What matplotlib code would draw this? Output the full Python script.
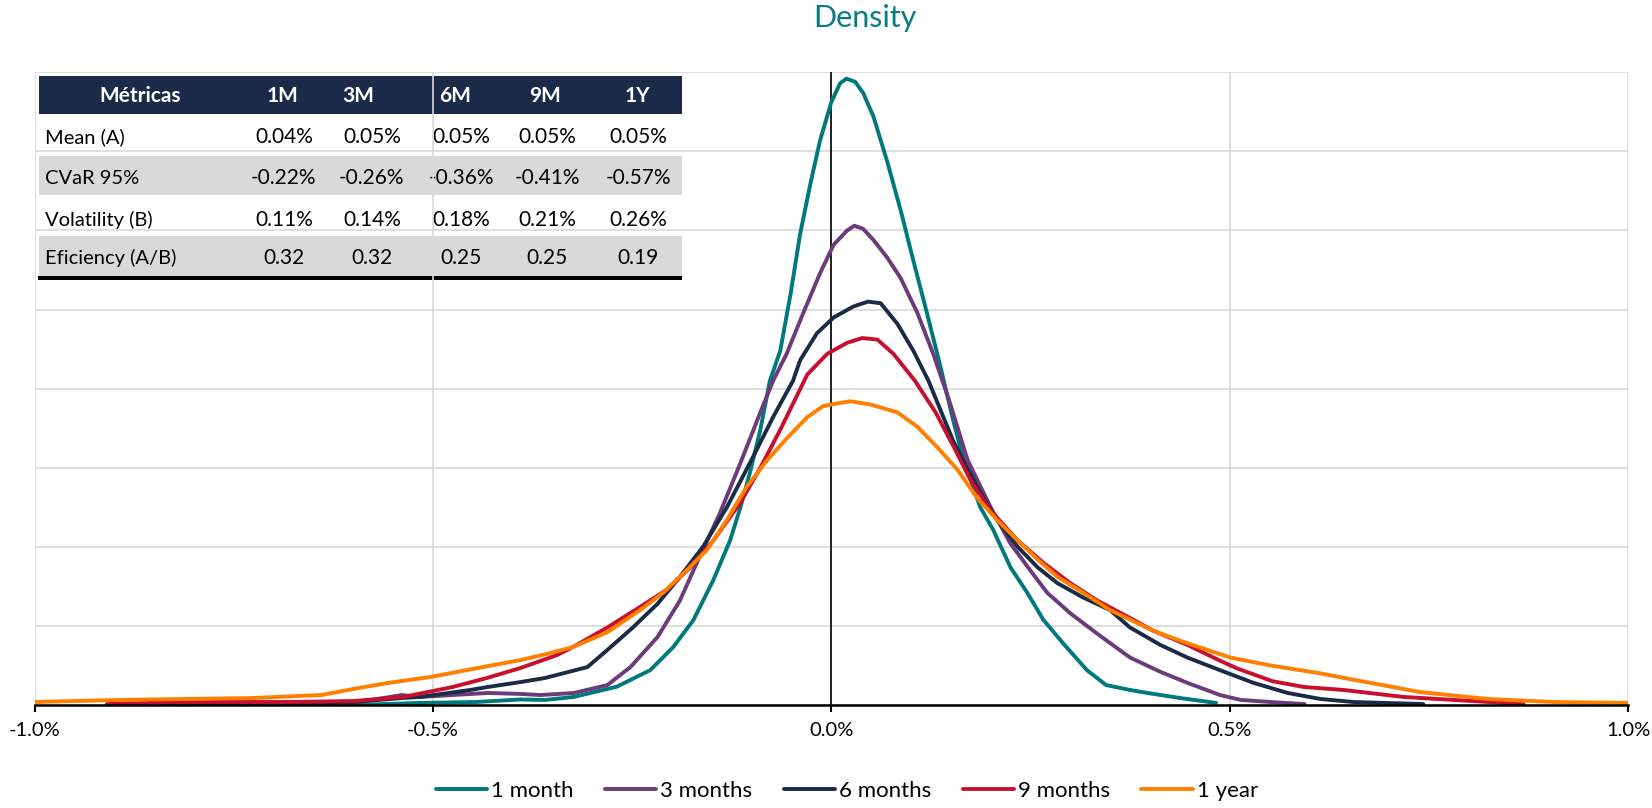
import matplotlib
matplotlib.use("Agg")
import matplotlib.pyplot as plt
from matplotlib.patches import Rectangle

plt.rcParams['font.family'] = ['Lato', 'DejaVu Sans']

# ______ data (x in %, density in chart units)
x_1m = [-0.600, -0.516, -0.446, -0.390, -0.359, -0.323, -0.269, -0.227, -0.198, -0.173, -0.148,
        -0.127, -0.114, -0.102, -0.089, -0.077, -0.064, -0.051, -0.039, -0.026, -0.014, 0.000,
        0.011, 0.019, 0.030, 0.040, 0.053, 0.070, 0.087, 0.103, 0.120, 0.137, 0.153, 0.166, 0.187,
        0.203, 0.225, 0.246, 0.266, 0.291, 0.321, 0.345, 0.375, 0.397, 0.438, 0.483]
y_1m = [0, 1.3, 1.9, 3.5, 3.2, 5.1, 11.6, 22.1, 36.8, 53.7, 79,
        104, 125, 147, 174, 205, 224, 260, 298, 330, 357, 381,
        393, 396, 394, 387, 372, 344, 313, 281, 248, 214, 180, 155, 125,
        111, 87, 71, 54, 39, 22, 12.6, 9.5, 7.6, 4.4, 1.3]

x_3m = [-0.692, -0.600, -0.539, -0.516, -0.431, -0.390, -0.365, -0.323, -0.281, -0.252, -0.218,
        -0.190, -0.165, -0.140, -0.114, -0.089, -0.073, -0.056, -0.035, -0.014, 0.003, 0.020,
        0.029, 0.040, 0.053, 0.070, 0.087, 0.108, 0.128, 0.149, 0.171, 0.200, 0.225, 0.250, 0.271,
        0.300, 0.334, 0.375, 0.413, 0.447, 0.488, 0.514, 0.551, 0.594]
y_3m = [0.6, 1.3, 6.3, 5.1, 7.6, 7.0, 6.3, 7.6, 12.6, 24, 43,
        66, 94, 121, 153, 185, 205, 222, 248, 273, 291, 300,
        303, 301, 294, 283, 270, 248, 222, 191, 155, 125, 102, 85, 71,
        58, 45, 30, 21, 14, 6.3, 3.2, 1.9, 0.6]

x_6m = [-0.839, -0.726, -0.600, -0.539, -0.516, -0.453, -0.431, -0.390, -0.359, -0.306, -0.281,
        -0.249, -0.218, -0.190, -0.161, -0.131, -0.098, -0.073, -0.048, -0.039, -0.018, 0.003,
        0.028, 0.046, 0.062, 0.083, 0.103, 0.122, 0.153, 0.183, 0.208, 0.234, 0.259, 0.284,
        0.316, 0.350, 0.375, 0.413, 0.447, 0.488, 0.530, 0.573, 0.614, 0.655, 0.743]
y_6m = [0, 1.3, 1.9, 4.4, 5.1, 9.5, 11.4, 14.5, 17.1, 24, 34.8,
        49, 64, 81, 100, 125, 157, 182, 205, 218, 235, 245,
        252, 255, 254, 241, 224, 205, 167, 138, 117, 100, 87, 77,
        68, 60, 49, 38, 30, 22, 14, 7.6, 3.8, 1.9, 0.6]

x_9m = [-0.909, -0.809, -0.683, -0.600, -0.537, -0.475, -0.432, -0.390, -0.344, -0.324, -0.281,
        -0.240, -0.206, -0.177, -0.148, -0.114, -0.089, -0.064, -0.030, -0.005, 0.020, 0.039,
        0.058, 0.078, 0.105, 0.131, 0.156, 0.175, 0.200, 0.234, 0.266, 0.300, 0.334, 0.375,
        0.404, 0.447, 0.488, 0.510, 0.554, 0.593, 0.643, 0.718, 0.781, 0.869]
y_9m = [0.6, 1.9, 1.9, 2.5, 5.1, 11.4, 17.1, 23.4, 31.6, 36.7, 49,
        62, 73, 87, 104, 128, 150, 174, 209, 222, 229, 232,
        231, 222, 205, 185, 161, 142, 123, 104, 90, 77, 66, 55,
        47, 38, 28, 23, 15, 11.4, 9.5, 5.1, 3.2, 0.6]

x_1y = [-1.000, -0.893, -0.809, -0.726, -0.640, -0.600, -0.557, -0.503, -0.431, -0.390, -0.352,
        -0.324, -0.281, -0.240, -0.211, -0.186, -0.156, -0.131, -0.106, -0.080, -0.055, -0.030,
        -0.010, 0.011, 0.024, 0.049, 0.083, 0.108, 0.133, 0.158, 0.183, 0.208, 0.234, 0.259,
        0.284, 0.316, 0.350, 0.375, 0.404, 0.447, 0.501, 0.551, 0.614, 0.655, 0.739, 0.824,
        0.906, 1.000]
y_1y = [1.9, 3.2, 3.8, 4.4, 6.3, 10.1, 13.9, 17.7, 24.6, 28.4, 32.9,
        36.7, 46, 60, 71, 83, 98, 117, 138, 155, 169, 182,
        189, 191, 192, 190, 185, 176, 163, 149, 131, 117, 104, 92,
        81, 71, 60, 54, 47, 39, 30, 25, 20, 16, 8.2, 3.8,
        1.9, 1.3]

series_labels = ['1 month', '3 months', '6 months', '9 months', '1 year']
series_colors = ['#00797C', '#6B3B7B', '#1B2A47', '#C8102E', '#FF7F00']

x_ticks = [-1.0, -0.5, 0.0, 0.5, 1.0]
x_tick_labels = ['-1.0%', '-0.5%', '0.0%', '0.5%', '1.0%']

table_header = ['Métricas', '1M', '3M', '6M', '9M', '1Y']
table_rows = ['Mean (A)', 'CVaR 95%', 'Volatility (B)', 'Eficiency (A/B)']
table_values = [
    ['0.04%', '0.05%', '0.05%', '0.05%', '0.05%'],
    ['-0.22%', '-0.26%', '-0.36%', '-0.41%', '-0.57%'],
    ['0.11%', '0.14%', '0.18%', '0.21%', '0.26%'],
    ['0.32', '0.32', '0.25', '0.25', '0.19'],
]

# ______ figure / axes in pixel terms
W, H = 1652, 808
X0, X1 = 34.5, 1628     # -1% and +1%
YB, YT = 705, 72.3      # 0 and top gridline

fig = plt.figure(figsize=(W / 100, H / 100), dpi=100)
ax = fig.add_axes([X0 / W, 1 - YB / H, (X1 - X0) / W, (YB - YT) / H])

xs = [x_1m, x_3m, x_6m, x_9m, x_1y]
ys = [y_1m, y_3m, y_6m, y_9m, y_1y]
for x, y, lab, col in zip(xs, ys, series_labels, series_colors):
    ax.plot(x, y, color=col, lw=2.8, label=lab, solid_joinstyle='round',
            solid_capstyle='round', zorder=2)

ax.axvline(0, color='black', lw=1.2, zorder=1.8)
ax.set_xlim(-1, 1)
ax.set_ylim(0, 400)
ax.set_xticks(x_ticks)
ax.set_xticklabels(x_tick_labels, fontsize=14.5)
ax.set_yticks(range(0, 401, 50))
ax.set_yticklabels([])
ax.tick_params(axis='y', length=0)
ax.tick_params(axis='x', direction='out', length=5, width=1.5, pad=7)
ax.set_axisbelow(True)
ax.grid(True, color='#D9D9D9', lw=1.2)
for s in ['top', 'right', 'left']:
    ax.spines[s].set_visible(False)
ax.spines['bottom'].set_linewidth(1.8)
ax.spines['bottom'].set_zorder(3)


# ______ table behind the grid
def ax_xy(px, py):
    return (px - X0) / (X1 - X0), (YB - py) / (YB - YT)


def rect(px0, py0, px1, py1, color):
    x0, y1 = ax_xy(px0, py0)
    x1, y0 = ax_xy(px1, py1)
    ax.add_patch(Rectangle((x0, y0), x1 - x0, y1 - y0, transform=ax.transAxes,
                           facecolor=color, edgecolor='none', zorder=0.2, clip_on=False))


TL, TR = 39, 682
rect(TL, 76, TR, 114, '#1B2A48')
rect(TL, 156, TR, 195, '#D9D9D9')
rect(TL, 236, TR, 276, '#D9D9D9')
rect(TL - 1, 276, TR, 280, '#000000')

head_x = [140, 282, 358, 455, 545, 637]
val_x = [284, 372, 461, 547, 638]
row_y = [137, 178, 220, 258]

for hx, h in zip(head_x, table_header):
    px, py = ax_xy(hx, 96)
    ax.text(px, py, h, transform=ax.transAxes, ha='center', va='center',
            color='white', fontsize=15, fontweight='bold', zorder=0.3)

for ry, lab, vals in zip(row_y, table_rows, table_values):
    px, py = ax_xy(45, ry)
    ax.text(px, py, lab, transform=ax.transAxes, ha='left', va='center',
            fontsize=14.5, zorder=0.3)
    for vx, v in zip(val_x, vals):
        px, py = ax_xy(vx, ry)
        ax.text(px, py, v, transform=ax.transAxes, ha='center', va='center',
                fontsize=15, zorder=0.3)

fig.text(865 / W, 1 - 18 / H, 'Density', color='#0A7B83', fontsize=22,
         ha='center', va='center')

fig.legend(loc='center', bbox_to_anchor=(847 / W, 1 - 791 / H), ncol=5, frameon=False,
           fontsize=16, handlelength=2.3, handletextpad=0.2, columnspacing=1.4)

fig.savefig('out.png', dpi=100)
